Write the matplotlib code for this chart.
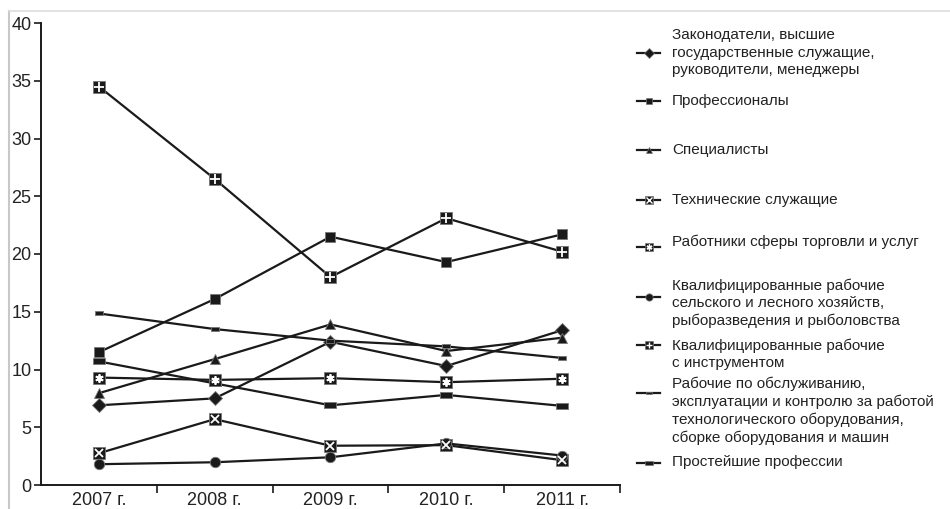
import matplotlib
matplotlib.use("Agg")
import matplotlib.pyplot as plt
from matplotlib.lines import Line2D

plt.rcParams['font.family'] = ['Liberation Sans', 'DejaVu Sans']

# data
years = ['2007 г.', '2008 г.', '2009 г.', '2010 г.', '2011 г.']

legislators = [6.9, 7.5, 12.4, 10.3, 13.4]
professionals = [11.5, 16.1, 21.5, 19.3, 21.7]
specialists = [7.95, 10.9, 13.9, 11.6, 12.75]
clerks = [2.75, 5.7, 3.4, 3.45, 2.15]
service_workers = [9.3, 9.1, 9.25, 8.9, 9.2]
agri_workers = [1.8, 1.97, 2.4, 3.6, 2.55]
craft_workers = [34.5, 26.5, 18.0, 23.1, 20.2]
operators = [14.85, 13.5, 12.5, 12.0, 11.0]
elementary = [10.7, 8.8, 6.9, 7.8, 6.85]

labels = [
    'Законодатели, высшие\nгосударственные служащие,\nруководители, менеджеры',
    'Профессионалы',
    'Специалисты',
    'Технические служащие',
    'Работники сферы торговли и услуг',
    'Квалифицированные рабочие\nсельского и лесного хозяйств,\nрыборазведения и рыболовства',
    'Квалифицированные рабочие\nс инструментом',
    'Рабочие по обслуживанию,\nэксплуатации и контролю за работой\nтехнологического оборудования,\nсборке оборудования и машин',
    'Простейшие профессии',
]

INK = '#1a1a1a'
rect_small = [(-1, -0.55), (1, -0.55), (1, 0.55), (-1, 0.55), (-1, -0.55)]
rect_wide = [(-1, -0.42), (1, -0.42), (1, 0.42), (-1, 0.42), (-1, -0.42)]

# (values, base marker, base size, overlay marker, overlay size)
series = [
    (legislators, 'D', 7.5, None, 0),
    (professionals, 's', 7, None, 0),
    (specialists, '^', 7, None, 0),
    (clerks, 's', 8, 'x', 5.5),
    (service_workers, 's', 8, (6, 2, 0), 6),
    (agri_workers, 'o', 7.5, None, 0),
    (craft_workers, 's', 8, '+', 6.5),
    (operators, rect_small, 5.5, None, 0),
    (elementary, rect_wide, 9, None, 0),
]

fig = plt.figure(figsize=(9.5, 5.09), dpi=100)
ax = fig.add_axes([41 / 950, 24 / 509, (620 - 41) / 950, (485 - 23) / 509])

x = list(range(len(years)))
for vals, m, ms, om, oms in series:
    ax.plot(x, vals, color=INK, lw=1.6, marker=m, markersize=ms,
            markerfacecolor=INK, markeredgecolor='#777777', markeredgewidth=0.6,
            zorder=3)
    if om is not None:
        ax.plot(x, vals, linestyle='none', marker=om, markersize=oms,
                markeredgecolor='white', markerfacecolor='white',
                markeredgewidth=1.3, zorder=4)

ax.set_xlim(-0.5, len(years) - 0.5)
ax.set_ylim(0, 40)
ax.set_yticks(range(0, 41, 5))
ax.set_xticks(x)
ax.set_xticklabels(years)
ax.set_xticks([i + 0.5 for i in x], minor=True)
ax.tick_params(axis='x', which='major', length=0, labelsize=13, pad=5, colors='#222222')
ax.tick_params(axis='x', which='minor', length=6, width=1.2, color=INK)
ax.tick_params(axis='y', length=5, width=1.2, labelsize=13, pad=2, colors='#222222')
ax.tick_params(axis='y', color=INK)
for side in ['top', 'right']:
    ax.spines[side].set_visible(False)
for side in ['left', 'bottom']:
    ax.spines[side].set_linewidth(1.4)
    ax.spines[side].set_color(INK)


def fx(px):
    return px / 950


def fy(py):
    return 1 - py / 509


# light frame around the picture
fig.add_artist(Line2D([fx(9), fx(9)], [fy(11), fy(509)], color='#c8c8c8', lw=1.5))
fig.add_artist(Line2D([fx(9), fx(950)], [fy(11), fy(11)], color='#dddddd', lw=1.2))

# hand-placed legend to the right
marker_y = [52.7, 100.7, 150, 200, 247, 297, 345, 393, 463]
text_y = [52.7, 100.7, 150, 200, 242, 303, 354, 411, 462]
for (vals, m, ms, om, oms), lab, my, ty in zip(series, labels, marker_y, text_y):
    fig.add_artist(Line2D([fx(637), fx(660)], [fy(my), fy(my)], color=INK, lw=1.6,
                          marker=None))
    fig.add_artist(Line2D([fx(648.5)], [fy(my)], linestyle='none', marker=m,
                          markersize=ms * 0.7, markerfacecolor=INK,
                          markeredgecolor='#777777', markeredgewidth=0.5))
    if om is not None:
        fig.add_artist(Line2D([fx(648.5)], [fy(my)], linestyle='none', marker=om,
                              markersize=oms * 0.7, markeredgecolor='white',
                              markerfacecolor='white', markeredgewidth=1.0))
    fig.text(fx(672), fy(ty), lab, fontsize=11, va='center', ha='left',
             linespacing=1.3, color='#222222')

fig.savefig('out.png', dpi=100)
